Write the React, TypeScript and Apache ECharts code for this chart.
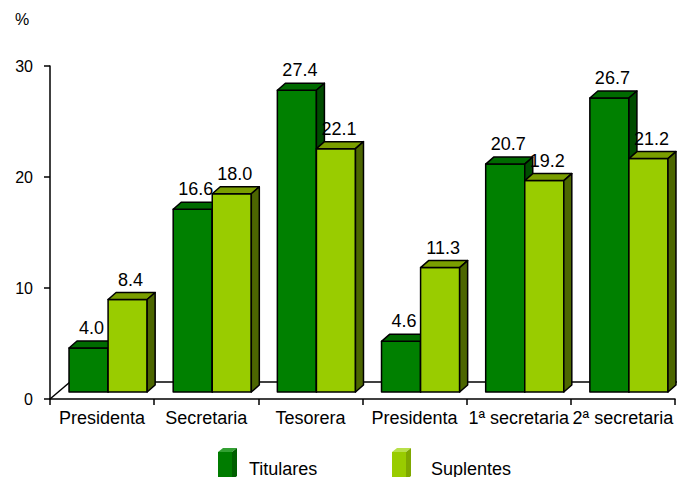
import React, { useEffect, useRef } from "react";
import * as echarts from "echarts";

const categories = ["Presidenta", "Secretaria", "Tesorera", "Presidenta", "1ª secretaria", "2ª secretaria"];
const titulares = [4.0, 16.6, 27.4, 4.6, 20.7, 26.7];
const suplentes = [8.4, 18.0, 22.1, 11.3, 19.2, 21.2];
const seriesNames = ["Titulares", "Suplentes"];
const yTicks = [0, 10, 20, 30];

const FONT = "'Liberation Sans', Arial, sans-serif";
const OX = 6; // front plane of bars
const OY = -7;
const DX = 8; // bar depth
const DY = -7;

const barColors = [
  { front: "#008000", top: "#006a00", side: "#004c00" },
  { front: "#99cc00", top: "#7a9e00", side: "#4c6600" },
];
const legendColors = [
  { front: "#007c00", top: "#33a033", side: "#005f00" },
  { front: "#99cc00", top: "#b8e04a", side: "#7fa800" },
];

function makeRender(s: number) {
  const c = barColors[s];
  return (params: any, api: any) => {
    const i = api.value(0);
    const v = api.value(1);
    const base = api.coord([i, 0]);
    const topP = api.coord([i, v]);
    const band = api.size([1, 0])[0];
    const bw = band * 0.375;
    const left = base[0] - bw + s * bw + OX;
    const yb = base[1] + OY;
    const h = (base[1] - topP[1]) * 0.992;
    const yt = yb - h;
    const stroke = { stroke: "#000", lineWidth: 1.5, lineJoin: "round" };
    return {
      type: "group",
      children: [
        { type: "rect", shape: { x: left, y: yt, width: bw, height: h }, style: { fill: c.front, ...stroke } },
        {
          type: "polygon",
          shape: { points: [[left, yt], [left + DX, yt + DY], [left + bw + DX, yt + DY], [left + bw, yt]] },
          style: { fill: c.top, ...stroke },
        },
        {
          type: "polygon",
          shape: { points: [[left + bw, yt], [left + bw + DX, yt + DY], [left + bw + DX, yb + DY], [left + bw, yb]] },
          style: { fill: c.side, ...stroke },
        },
        {
          type: "text",
          x: left + bw / 2 + 3,
          y: yt - 20,
          style: {
            text: v.toFixed(1),
            fill: "#000",
            fontSize: 18,
            fontFamily: FONT,
            align: "center",
            verticalAlign: "middle",
          },
        },
      ],
    };
  };
}

function legendIcon(x: number, y: number, c: { front: string; top: string; side: string }) {
  const w = 14, h = 28, dx = 5, dy = -4;
  return [
    { type: "rect", shape: { x, y, width: w, height: h }, style: { fill: c.front } },
    { type: "polygon", shape: { points: [[x, y], [x + dx, y + dy], [x + w + dx, y + dy], [x + w, y]] }, style: { fill: c.top } },
    { type: "polygon", shape: { points: [[x + w, y], [x + w + dx, y + dy], [x + w + dx, y + h + dy], [x + w, y + h]] }, style: { fill: c.side } },
  ];
}

export default function App() {
  const ref = useRef<HTMLDivElement>(null);
  useEffect(() => {
    if (!ref.current) return;
    const chart = echarts.init(ref.current, undefined, { renderer: "svg" });
    chart.setOption({
      animation: false,
      backgroundColor: "#fff",
      grid: { left: 50, right: 2, top: 66, bottom: 78, containLabel: false },
      xAxis: {
        type: "category",
        data: categories,
        boundaryGap: true,
        axisLine: { show: true, lineStyle: { color: "#000", width: 1.5 } },
        axisTick: { show: true, length: 6, lineStyle: { color: "#000", width: 1.5 }, alignWithLabel: false },
        axisLabel: { interval: 0, color: "#000", fontSize: 18, fontFamily: FONT, margin: 10 },
        splitLine: { show: false },
      },
      yAxis: {
        type: "value",
        min: yTicks[0],
        max: yTicks[yTicks.length - 1],
        interval: 10,
        axisLine: { show: true, lineStyle: { color: "#000", width: 1.5 } },
        axisTick: { show: true, length: 6, lineStyle: { color: "#000", width: 1.5 } },
        axisLabel: { color: "#000", fontSize: 16, fontFamily: FONT, margin: 17 },
        splitLine: { show: false },
      },
      graphic: [
        { type: "text", left: 15, top: 11, style: { text: "%", fill: "#000", fontSize: 16, fontFamily: FONT } },
        ...legendIcon(218, 452, legendColors[0]),
        { type: "text", x: 249, y: 468.5, style: { text: seriesNames[0], fill: "#000", fontSize: 18, fontFamily: FONT, verticalAlign: "middle" } },
        ...legendIcon(392, 452, legendColors[1]),
        { type: "text", x: 431, y: 468.5, style: { text: seriesNames[1], fill: "#000", fontSize: 18, fontFamily: FONT, verticalAlign: "middle" } },
      ],
      series: [
        {
          type: "custom",
          name: "floor",
          clip: false,
          silent: true,
          data: [[0, 0]],
          renderItem: (params: any) => {
            const cs = params.coordSys;
            const x0 = cs.x, y0 = cs.y + cs.height;
            return {
              type: "group",
              children: [
                { type: "line", shape: { x1: x0, y1: y0, x2: x0 + 20, y2: y0 - 17 }, style: { stroke: "#000", lineWidth: 1.5 } },
                { type: "line", shape: { x1: x0 + 20, y1: y0 - 17, x2: x0 + cs.width + 4, y2: y0 - 17 }, style: { stroke: "#000", lineWidth: 1.5 } },
              ],
            };
          },
        },
        {
          type: "custom",
          name: seriesNames[0],
          clip: false,
          data: titulares.map((v, i) => [i, v]),
          renderItem: makeRender(0),
        },
        {
          type: "custom",
          name: seriesNames[1],
          clip: false,
          data: suplentes.map((v, i) => [i, v]),
          renderItem: makeRender(1),
        },
      ],
    });
    return () => chart.dispose();
  }, []);
  return <div ref={ref} style={{ position: "fixed", left: 0, top: 0, width: 677, height: 477 }} />;
}
